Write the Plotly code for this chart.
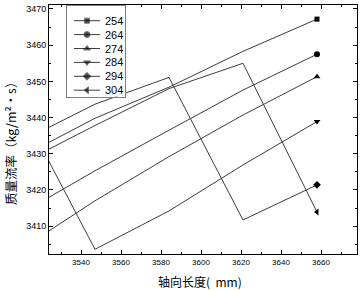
import plotly.graph_objects as go

# ---- data ----
x_pos = [3510, 3547, 3584, 3621, 3658]
series_names = ["254", "264", "274", "284", "294", "304"]
s254 = [3429.1, 3439.8, 3448.4, 3458.3, 3467.2]
s264 = [3413.5, 3425.3, 3436.5, 3447.6, 3457.5]
s274 = [3403.6, 3417.0, 3429.2, 3440.7, 3451.3]
s284 = [3442.6, 3403.6, 3414.2, 3426.9, 3438.9]
s294 = [3433.4, 3443.7, 3451.1, 3411.7, 3421.4]
s304 = [3427.3, 3437.8, 3448.0, 3455.0, 3413.9]
all_series = [s254, s264, s274, s284, s294, s304]
symbols = ["square", "circle", "triangle-up", "triangle-down", "diamond", "triangle-left"]
msizes = [5, 6, 6, 6, 6, 6]

W, H = 363, 291
ML, MR, MT, MB = 49, 6, 5, 37
PW, PH = W - ML - MR, H - MT - MB

LINE_COL = "#3c3c3c"
fig = go.Figure()
for name, vals, sym, ms in zip(series_names, all_series, symbols, msizes):
    fig.add_trace(go.Scatter(x=x_pos, y=vals, mode="lines",
                             line=dict(color=LINE_COL, width=1),
                             showlegend=False, name=name))
    fig.add_trace(go.Scatter(x=[x_pos[-1]], y=[vals[-1]], mode="markers",
                             marker=dict(symbol=sym, size=ms, color="black"),
                             showlegend=False, name=name))

# ---- custom legend box in an inset axis (pixel units) ----
lx0, lx1, ly0, ly1 = 67.3, 125.0, 6.0, 96.7
row0, row_step = 20.7, 13.9
for i, (name, sym, ms) in enumerate(zip(series_names, symbols, msizes)):
    yy = row0 + i * row_step
    fig.add_trace(go.Scatter(x=[74, 87, 100], y=[yy, yy, yy], mode="lines+markers",
                             line=dict(color=LINE_COL, width=1),
                             marker=dict(symbol=sym, size=[0, ms, 0], color="black"),
                             xaxis="x2", yaxis="y2", showlegend=False, hoverinfo="skip"))
    fig.add_annotation(x=102.5, y=yy, xref="x2", yref="y2", text=name, showarrow=False,
                       xanchor="left", yanchor="middle",
                       font=dict(family="Liberation Sans, Arial", size=11, color="black"))

axis_common = dict(showline=True, linecolor="black", linewidth=1, mirror="ticks",
                   ticks="inside", tickcolor="black", ticklen=4, tickwidth=1,
                   showgrid=False, zeroline=False)

fig.update_layout(
    width=W, height=H,
    margin=dict(l=ML, r=MR, t=MT, b=MB),
    paper_bgcolor="white", plot_bgcolor="white",
    showlegend=False,
    xaxis=dict(range=[3524, 3678], tick0=3540, dtick=20,
               tickfont=dict(family="Liberation Sans, Arial", size=8, color="black"),
               minor=dict(dtick=10, ticks="inside", ticklen=2, tickcolor="black"),
               **axis_common),
    yaxis=dict(range=[3402.3, 3471.1], tick0=3410, dtick=10,
               tickfont=dict(family="Liberation Sans, Arial", size=9, color="black"),
               minor=dict(dtick=5, ticks="inside", ticklen=2, tickcolor="black"),
               **axis_common),
    xaxis2=dict(domain=[(lx0 - ML) / PW, (lx1 - ML) / PW], range=[lx0, lx1],
                showline=True, mirror=True, linecolor="#808080", linewidth=1,
                showgrid=False, zeroline=False, showticklabels=False, ticks="",
                anchor="y2", fixedrange=True),
    yaxis2=dict(domain=[(H - MB - ly1) / PH, (H - MB - ly0) / PH], range=[ly1, ly0],
                showline=True, mirror=True, linecolor="#808080", linewidth=1,
                showgrid=False, zeroline=False, showticklabels=False, ticks="",
                anchor="x2", fixedrange=True),
)

# axis titles
fig.add_annotation(x=(10 - ML) / PW, y=(H - MB - 141) / PH, xref="paper", yref="paper",
                   text="质量流率（kg/m²•s）", textangle=-90, showarrow=False,
                   xanchor="center", yanchor="middle",
                   font=dict(family="Noto Sans CJK SC", size=12.5, color="black"))
fig.add_annotation(x=(200 - ML) / PW, y=(H - MB - 281) / PH, xref="paper", yref="paper",
                   text="轴向长度(  mm)", showarrow=False,
                   xanchor="center", yanchor="middle",
                   font=dict(family="Noto Sans CJK SC", size=12, color="black"))

fig.write_html("out.html", config={"displayModeBar": False},
               post_script="document.body.style.margin='0px';document.body.style.padding='0px';")
